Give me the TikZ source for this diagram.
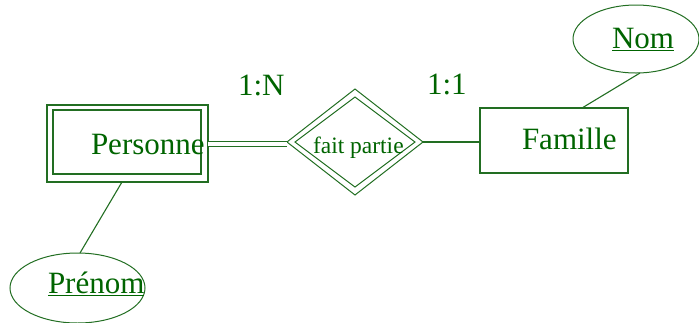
\documentclass[tikz,border=0pt]{standalone}
\usepackage{fontspec}
\setmainfont{Liberation Serif}
\usetikzlibrary{shapes.geometric}
\definecolor{txtgreen}{RGB}{0,100,0}
\definecolor{lngreen}{RGB}{34,110,34}
\begin{document}
\begin{tikzpicture}[x=1pt,y=-1pt,
  every node/.style={inner sep=0pt,outer sep=0pt},
  boxshape/.style={draw=lngreen,line width=1.1pt,rectangle},
  relshape/.style={draw=lngreen,line width=1pt,diamond},
  attrshape/.style={draw=lngreen,line width=1pt,ellipse},
  lbl/.style={text=txtgreen,font=\fontsize{31}{31}\selectfont,anchor=base west},
  conn/.style={draw=lngreen,line width=1.1pt}]
\useasboundingbox (0,0) rectangle (699,322);
% Personne (weak entity)
\node[boxshape,minimum width=161pt,minimum height=77pt] (persO) at (127.5,143.5) {};
\node[boxshape,minimum width=148pt,minimum height=64pt] (persI) at (127,142) {};
\node[lbl] (persT) at (91,154) {Personne};
% relation
\node[relshape,minimum width=136pt,minimum height=106pt] (relO) at (355,142) {};
\node[relshape,minimum width=120pt,minimum height=90pt] (relI) at (355,142) {};
\node[lbl,font=\fontsize{23.5}{23.5}\selectfont] (relT) at (313,153) {fait partie};
% Famille
\node[boxshape,minimum width=148pt,minimum height=65pt] (fam) at (554,140.5) {};
\node[lbl] (famT) at (522,149) {Famille};
% attributes
\node[attrshape,minimum width=126pt,minimum height=68pt] (nom) at (636,39) {};
\node[lbl] (nomT) at (612,48) {\underline{Nom}};
\node[attrshape,minimum width=135pt,minimum height=70pt] (pre) at (77.5,288) {};
\node[lbl] (preT) at (48,293) {\underline{Prénom}};
% cardinalities
\node[lbl] (cN) at (238,95) {1:N};
\node[lbl] (c1) at (427,94) {1:1};
% connectors
\coordinate (pe) at (208,144);
\coordinate (rw) at (287,144);
\draw[draw=lngreen,line width=1.1pt,double=white,double distance=3.5pt] (pe) -- (rw);
\draw[conn] (relO.east) -- (relO.east -| fam.west);
\coordinate (famtop) at (582,108);
\coordinate (nombot) at (640,73);
\draw[conn] (famtop) -- (nombot);
\coordinate (persbot) at (122,182);
\coordinate (pretop) at (80,253);
\draw[conn] (persbot) -- (pretop);
\end{tikzpicture}
\end{document}
